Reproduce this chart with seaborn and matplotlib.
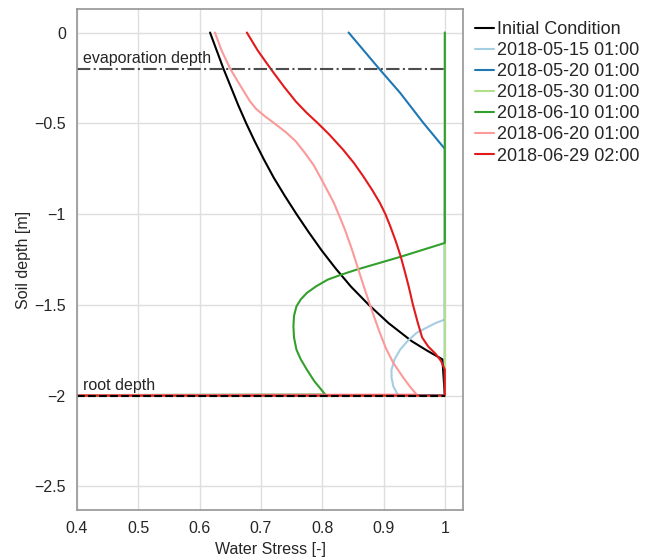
import pandas as pd
import matplotlib
matplotlib.use("Agg")
import matplotlib.pyplot as plt
import seaborn as sns

# water stress profiles, depth in m (negative down)
series_names = ["Initial Condition", "2018-05-15 01:00", "2018-05-20 01:00",
                "2018-05-30 01:00", "2018-06-10 01:00", "2018-06-20 01:00",
                "2018-06-29 02:00"]

depth_init = [0, -0.1, -0.2, -0.3, -0.4, -0.5, -0.6, -0.7, -0.8, -0.9, -1.0, -1.1, -1.2, -1.3,
              -1.4, -1.5, -1.6, -1.7, -1.75, -1.8, -2.0, -2.0]
stress_init = [0.617, 0.628, 0.639, 0.651, 0.663, 0.676, 0.690, 0.705, 0.721, 0.739, 0.758, 0.778,
               0.799, 0.822, 0.847, 0.876, 0.908, 0.946, 0.970, 0.996, 1.0, 0.0]

depth_0515 = [0, -1.581, -1.6, -1.654, -1.7, -1.747, -1.8, -1.857, -1.9, -1.949, -2.0, -2.0]
stress_0515 = [1.0, 1.0, 0.985, 0.954, 0.939, 0.927, 0.918, 0.913, 0.913, 0.916, 0.924, 0.0]

depth_0520 = [0, -0.204, -0.332, -0.498, -0.641, -2.0, -2.0]
stress_0520 = [0.843, 0.894, 0.927, 0.965, 1.0, 1.0, 0.0]

depth_0530 = [0, -2.0, -2.0]
stress_0530 = [1.0, 1.0, 0.0]

depth_0610 = [0, -1.159, -1.236, -1.306, -1.335, -1.361, -1.398, -1.434, -1.47, -1.508, -1.56,
              -1.618, -1.68, -1.747, -1.8, -1.857, -1.92, -1.994, -2.0]
stress_0610 = [1.0, 1.0, 0.927, 0.856, 0.830, 0.809, 0.790, 0.775, 0.765, 0.758, 0.754,
               0.753, 0.754, 0.758, 0.765, 0.775, 0.787, 0.805, 0.0]

depth_0620 = [0, -0.1, -0.2, -0.29, -0.378, -0.42, -0.46, -0.5, -0.55, -0.6, -0.66, -0.73, -0.81,
              -0.938, -1.085, -1.2, -1.306, -1.4, -1.471, -1.56, -1.654, -1.74, -1.82, -1.9, -1.95,
              -1.994, -2.0]
stress_0620 = [0.625, 0.636, 0.650, 0.666, 0.682, 0.692, 0.706, 0.722, 0.741, 0.757, 0.771, 0.786,
               0.799, 0.819, 0.837, 0.849, 0.859, 0.868, 0.875, 0.884, 0.894, 0.904, 0.916, 0.932,
               0.943, 0.954, 0.0]

depth_0629 = [0, -0.1, -0.2, -0.3, -0.38, -0.44, -0.5, -0.56, -0.645, -0.72, -0.792, -0.87, -0.938,
              -1.0, -1.067, -1.15, -1.233, -1.32, -1.398, -1.5, -1.6, -1.68, -1.73, -1.77, -1.81,
              -1.857, -2.0, -2.0]
stress_0629 = [0.677, 0.695, 0.716, 0.738, 0.757, 0.774, 0.793, 0.811, 0.834, 0.852, 0.867, 0.882,
               0.894, 0.903, 0.911, 0.920, 0.928, 0.935, 0.941, 0.948, 0.956, 0.963, 0.973, 0.985,
               0.994, 1.0, 1.0, 0.0]

evaporation_depth = -0.2
root_depth = -2.0

x_ticks = [0.4, 0.5, 0.6, 0.7, 0.8, 0.9, 1.0]
x_tick_labels = ["0.4", "0.5", "0.6", "0.7", "0.8", "0.9", "1"]
y_ticks = [0, -0.5, -1, -1.5, -2, -2.5]
y_tick_labels = ["0", "\u22120.5", "\u22121", "\u22121.5", "\u22122", "\u22122.5"]

colors = ["black", "#a6cee3", "#1f78b4", "#b2df8a", "#33a02c", "#fb9a99", "#e31a1c"]


def build_frame():
    """Stack every profile into one long table"""
    depths = [depth_init, depth_0515, depth_0520, depth_0530, depth_0610, depth_0620, depth_0629]
    stresses = [stress_init, stress_0515, stress_0520, stress_0530, stress_0610, stress_0620, stress_0629]
    frames = []
    for name, d, s in zip(series_names, depths, stresses):
        frames.append(pd.DataFrame({"series": name, "depth": d, "stress": s}))
    return pd.concat(frames, ignore_index=True)


sns.set_theme(style="whitegrid")
plt.rcParams["font.family"] = ["Liberation Sans", "DejaVu Sans"]
plt.rcParams["axes.edgecolor"] = "0.6"
plt.rcParams["grid.color"] = "0.87"

df = build_frame()

fig, ax = plt.subplots(figsize=(6.58, 5.58), dpi=100)
fig.subplots_adjust(left=0.117, right=0.704, bottom=0.086, top=0.984)

sns.lineplot(data=df, x="stress", y="depth", hue="series", hue_order=series_names,
             palette=dict(zip(series_names, colors)), sort=False, estimator=None,
             linewidth=1.5, ax=ax)

ax.plot([0.4, 1.0], [evaporation_depth, evaporation_depth], color="0.3", linestyle="-.", linewidth=1.5)
ax.plot([0.4, 1.0], [root_depth, root_depth], color="black", linestyle="--", linewidth=1.5)
ax.text(0.41, evaporation_depth + 0.015, "evaporation depth", fontsize=11.5, va="bottom", ha="left")
ax.text(0.41, root_depth + 0.015, "root depth", fontsize=11.5, va="bottom", ha="left")

ax.set_xlim(0.4, 1.03)
ax.set_ylim(-2.63, 0.13)
ax.set_xticks(x_ticks)
ax.set_xticklabels(x_tick_labels)
ax.set_yticks(y_ticks)
ax.set_yticklabels(y_tick_labels)
ax.tick_params(labelsize=11.5, pad=2)
ax.set_xlabel("Water Stress [-]", fontsize=11.5)
ax.set_ylabel("Soil depth [m]", fontsize=11.5, labelpad=2)

handles, labels = ax.get_legend_handles_labels()
ax.legend(handles, labels, loc="upper left", bbox_to_anchor=(1.013, 0.99), frameon=False,
          fontsize=13, handlelength=1.0, handletextpad=0.2, labelspacing=0.225,
          borderaxespad=0.0, borderpad=0.4)

plt.savefig("out.png", dpi=100)
plt.close()
